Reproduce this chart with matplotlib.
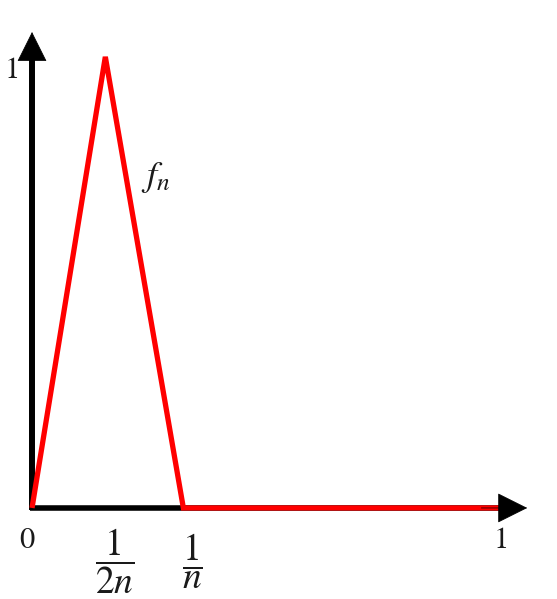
import matplotlib
matplotlib.use("Agg")
import matplotlib.pyplot as plt

# data
x_pts = [0.0, 0.155, 0.32, 1.0]
y_pts = [0.0, 1.0, 0.0, 0.0]
x_tick_pos = [0.0, 0.155, 0.32, 1.0]
x_tick_labels = [r"$0$", r"$\dfrac{1}{2n}$", r"$\dfrac{1}{n}$", r"$1$"]
y_tick_label = r"$1$"
curve_label = r"$f_n$"

plt.rcParams["mathtext.fontset"] = "stix"

fig = plt.figure(figsize=(5.57, 5.99), dpi=100)
ax = fig.add_axes([0, 0, 1, 1])
ax.set_xlim(-0.0677, 1.110)
ax.set_ylim(-0.2018, 1.126)
ax.axis("off")

txt = "#1a1a1a"
# axis shafts
ax.plot([0, 0], [-0.005, 1.0], color="black", lw=4.3, solid_capstyle="butt", zorder=2)
ax.plot([-0.005, 1.0], [0, 0], color="black", lw=4.0, solid_capstyle="butt", zorder=2)
# arrow heads
head_kw = dict(arrowstyle="-|>,head_length=1.0,head_width=0.5", color="black",
               lw=0.5, mutation_scale=20, shrinkA=0, shrinkB=0)
ax.annotate("", xy=(0, 1.055), xytext=(0, 0.95), arrowprops=head_kw, zorder=4)
ax.annotate("", xy=(1.047, 0), xytext=(0.95, 0), arrowprops=head_kw, zorder=4)

# red curve
ax.plot(x_pts, y_pts, color="#ff0000", lw=3.8, solid_joinstyle="miter",
        solid_capstyle="butt", zorder=3)

# labels
ax.text(-0.044, 0.972, y_tick_label, fontsize=22, color=txt, ha="center", va="center")
y_lab = [-0.071, -0.117, -0.117, -0.071]
x_off = [-0.011, 0.02, 0.02, -0.011]
sizes = [22, 27, 27, 22]
for xp, lab, yl, xo, fs in zip(x_tick_pos, x_tick_labels, y_lab, x_off, sizes):
    ax.text(xp + xo, yl, lab, fontsize=fs, color=txt, ha="center", va="center")

ax.text(0.262, 0.732, curve_label, fontsize=26, color=txt, ha="center", va="center")

fig.savefig("out.png", dpi=100)
